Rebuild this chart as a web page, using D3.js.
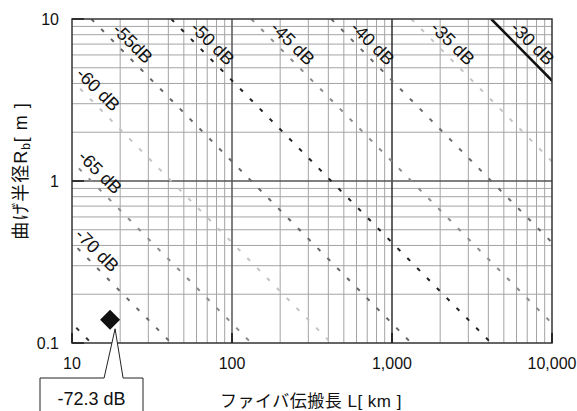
<!DOCTYPE html>
<html>
<head>
<meta charset="utf-8">
<script src="https://cdn.jsdelivr.net/npm/d3@7/dist/d3.min.js"></script>
<style>
  html, body { margin: 0; padding: 0; background: #fff; }
  svg { display: block; }
  text { font-family: "Liberation Sans", Arial, "Noto Sans CJK JP", sans-serif; fill: #111; }
</style>
</head>
<body>
<svg id="chart" width="577" height="411"></svg>
<script>
// ---------------- data ----------------
const xTickValues = [10, 100, 1000, 10000];
const xTickLabels = ["10", "100", "1,000", "10,000"];
const yTickValues = [0.1, 1, 10];
const yTickLabels = ["0.1", "1", "10"];

// iso-loss lines (dB) and the L·R product (km·m) each one follows
const isoDB      = [-30, -35, -40, -45, -50, -55, -60, -65, -70, -75];
const isoProduct = [41700, 13200, 4170, 1320, 417, 132, 41.7, 13.2, 4.17, 1.32];
const isoLabels  = ["-30 dB", "-35 dB", "-40 dB", "-45 dB", "-50 dB", "-55dB", "-60 dB", "-65 dB", "-70 dB", ""];
// bend radius (m) at which each label sits
const isoLabelR  = [6.25, 6.25, 6.25, 6.25, 6.25, 6.25, 3.25, 1.0, 0.33, null];

// marked point
const pointL = [17.3];
const pointR = [0.139];
const pointLabel = ["-72.3 dB"];

const xTitle = "ファイバ伝搬長 L[ km ]";

// ---------------- styles ----------------
const isoStyle = {
  "-30": { color: "#111", width: 2.6, dash: null },
  "-35": { color: "#c4c4c4", width: 2, dash: "4 10" },
  "-40": { color: "#6a6a6a", width: 2, dash: "4 10" },
  "-45": { color: "#8c8c8c", width: 2, dash: "4 10" },
  "-50": { color: "#222", width: 2, dash: "4 10" },
  "-55": { color: "#666", width: 2, dash: "4 10" },
  "-60": { color: "#c4c4c4", width: 2, dash: "4 10" },
  "-65": { color: "#8c8c8c", width: 2, dash: "4 10" },
  "-70": { color: "#6a6a6a", width: 2, dash: "4 10" },
  "-75": { color: "#333", width: 2, dash: "4 10" }
};

// ---------------- layout ----------------
const svg = d3.select("#chart");
const pL = 72, pR = 552, pT = 19, pB = 343;

const x = d3.scaleLog().domain([10, 10000]).range([pL, pR]);
const y = d3.scaleLog().domain([0.1, 10]).range([pB, pT]);

svg.append("defs").append("clipPath").attr("id", "plotClip")
  .append("rect").attr("x", pL).attr("y", pT)
  .attr("width", pR - pL).attr("height", pB - pT);

// minor grid
const xMinor = [], yMinor = [];
[10, 100, 1000].forEach(d => { for (let m = 2; m <= 9; m++) xMinor.push(d * m); });
[0.1, 1].forEach(d => { for (let m = 2; m <= 9; m++) yMinor.push(d * m); });

const grid = svg.append("g");
grid.selectAll(".vx").data(xMinor).enter().append("line")
  .attr("x1", d => x(d)).attr("x2", d => x(d)).attr("y1", pT).attr("y2", pB)
  .attr("stroke", "#a4a4a4").attr("stroke-width", 1);
grid.selectAll(".hy").data(yMinor).enter().append("line")
  .attr("x1", pL).attr("x2", pR).attr("y1", d => y(d)).attr("y2", d => y(d))
  .attr("stroke", "#a4a4a4").attr("stroke-width", 1);

// major grid
grid.append("line").attr("x1", x(100)).attr("x2", x(100)).attr("y1", pT).attr("y2", pB)
  .attr("stroke", "#606060").attr("stroke-width", 1.6);
grid.append("line").attr("x1", x(1000)).attr("x2", x(1000)).attr("y1", pT).attr("y2", pB)
  .attr("stroke", "#222").attr("stroke-width", 1.4);
grid.append("line").attr("x1", pL).attr("x2", pR).attr("y1", y(1)).attr("y2", y(1))
  .attr("stroke", "#555").attr("stroke-width", 1.5);

// iso lines
const iso = svg.append("g").attr("clip-path", "url(#plotClip)");
isoDB.forEach((db, i) => {
  const P = isoProduct[i];
  const st = isoStyle[String(db)];
  iso.append("line")
    .attr("x1", x(P / 10)).attr("y1", y(10))
    .attr("x2", x(P / 0.1)).attr("y2", y(0.1))
    .attr("stroke", st.color).attr("stroke-width", st.width)
    .attr("stroke-dasharray", st.dash)
    .attr("stroke-linecap", "butt");
});

// frame
svg.append("rect").attr("x", pL).attr("y", pT)
  .attr("width", pR - pL).attr("height", pB - pT)
  .attr("fill", "none").attr("stroke", "#333").attr("stroke-width", 1.5);

// inward ticks at decades
const ticks = svg.append("g");
xTickValues.forEach(v => {
  ticks.append("line").attr("x1", x(v)).attr("x2", x(v)).attr("y1", pB).attr("y2", pB - 10)
    .attr("stroke", "#222").attr("stroke-width", 1.8);
});
yTickValues.forEach(v => {
  ticks.append("line").attr("x1", pL).attr("x2", pL + 12).attr("y1", y(v)).attr("y2", y(v))
    .attr("stroke", "#222").attr("stroke-width", 1.6);
});

// tick labels
svg.append("g").selectAll("text").data(xTickValues).enter().append("text")
  .attr("x", d => x(d)).attr("y", 369)
  .attr("text-anchor", "middle").attr("font-size", 16)
  .text((d, i) => xTickLabels[i]);
svg.append("g").selectAll("text").data(yTickValues).enter().append("text")
  .attr("x", 59).attr("y", d => y(d) + 6)
  .attr("text-anchor", "end").attr("font-size", 16)
  .text((d, i) => yTickLabels[i]);

// iso labels
const lab = svg.append("g");
isoDB.forEach((db, i) => {
  if (!isoLabels[i]) return;
  const R = isoLabelR[i];
  const L = isoProduct[i] / R;
  const px = x(L) + 9, py = y(R) - 9;
  lab.append("text")
    .attr("transform", `translate(${px},${py}) rotate(45)`)
    .attr("text-anchor", "middle").attr("dy", "0.36em")
    .attr("font-size", 18)
    .text(isoLabels[i]);
});

// axis titles
svg.append("text")
  .attr("x", 311).attr("y", 407)
  .attr("text-anchor", "middle").attr("font-size", 17)
  .attr("letter-spacing", 0.5)
  .text(xTitle);

const yt = svg.append("text")
  .attr("transform", "translate(27,171) rotate(-90)")
  .attr("text-anchor", "middle").attr("font-size", 18)
  .attr("letter-spacing", 1);
yt.append("tspan").text("曲げ半径R");
yt.append("tspan").attr("font-size", 12).attr("dy", 3).text("b");
yt.append("tspan").attr("dy", -3).text("[ m ]");

// marked point + callout
const px0 = x(pointL[0]), py0 = y(pointR[0]);
const h = 10;
svg.append("path")
  .attr("d", `M${px0},${py0 - h}L${px0 + h},${py0}L${px0},${py0 + h}L${px0 - h},${py0}Z`)
  .attr("fill", "#111");

const tipX = px0 + 5, tipY = py0 + h - 1;
const boxL = 40, boxR = 143, boxT = 378, boxB = 420;
svg.append("path")
  .attr("d", `M${tipX - 11},${boxT}L${boxL},${boxT}L${boxL},${boxB}M${boxR},${boxB}L${boxR},${boxT}L${tipX + 8},${boxT}L${tipX},${tipY}L${tipX - 11},${boxT}`)
  .attr("fill", "#fff").attr("stroke", "#222").attr("stroke-width", 1);
svg.append("text").attr("x", (boxL + boxR) / 2).attr("y", 405)
  .attr("text-anchor", "middle").attr("font-size", 18)
  .text(pointLabel[0]);
</script>
</body>
</html>
